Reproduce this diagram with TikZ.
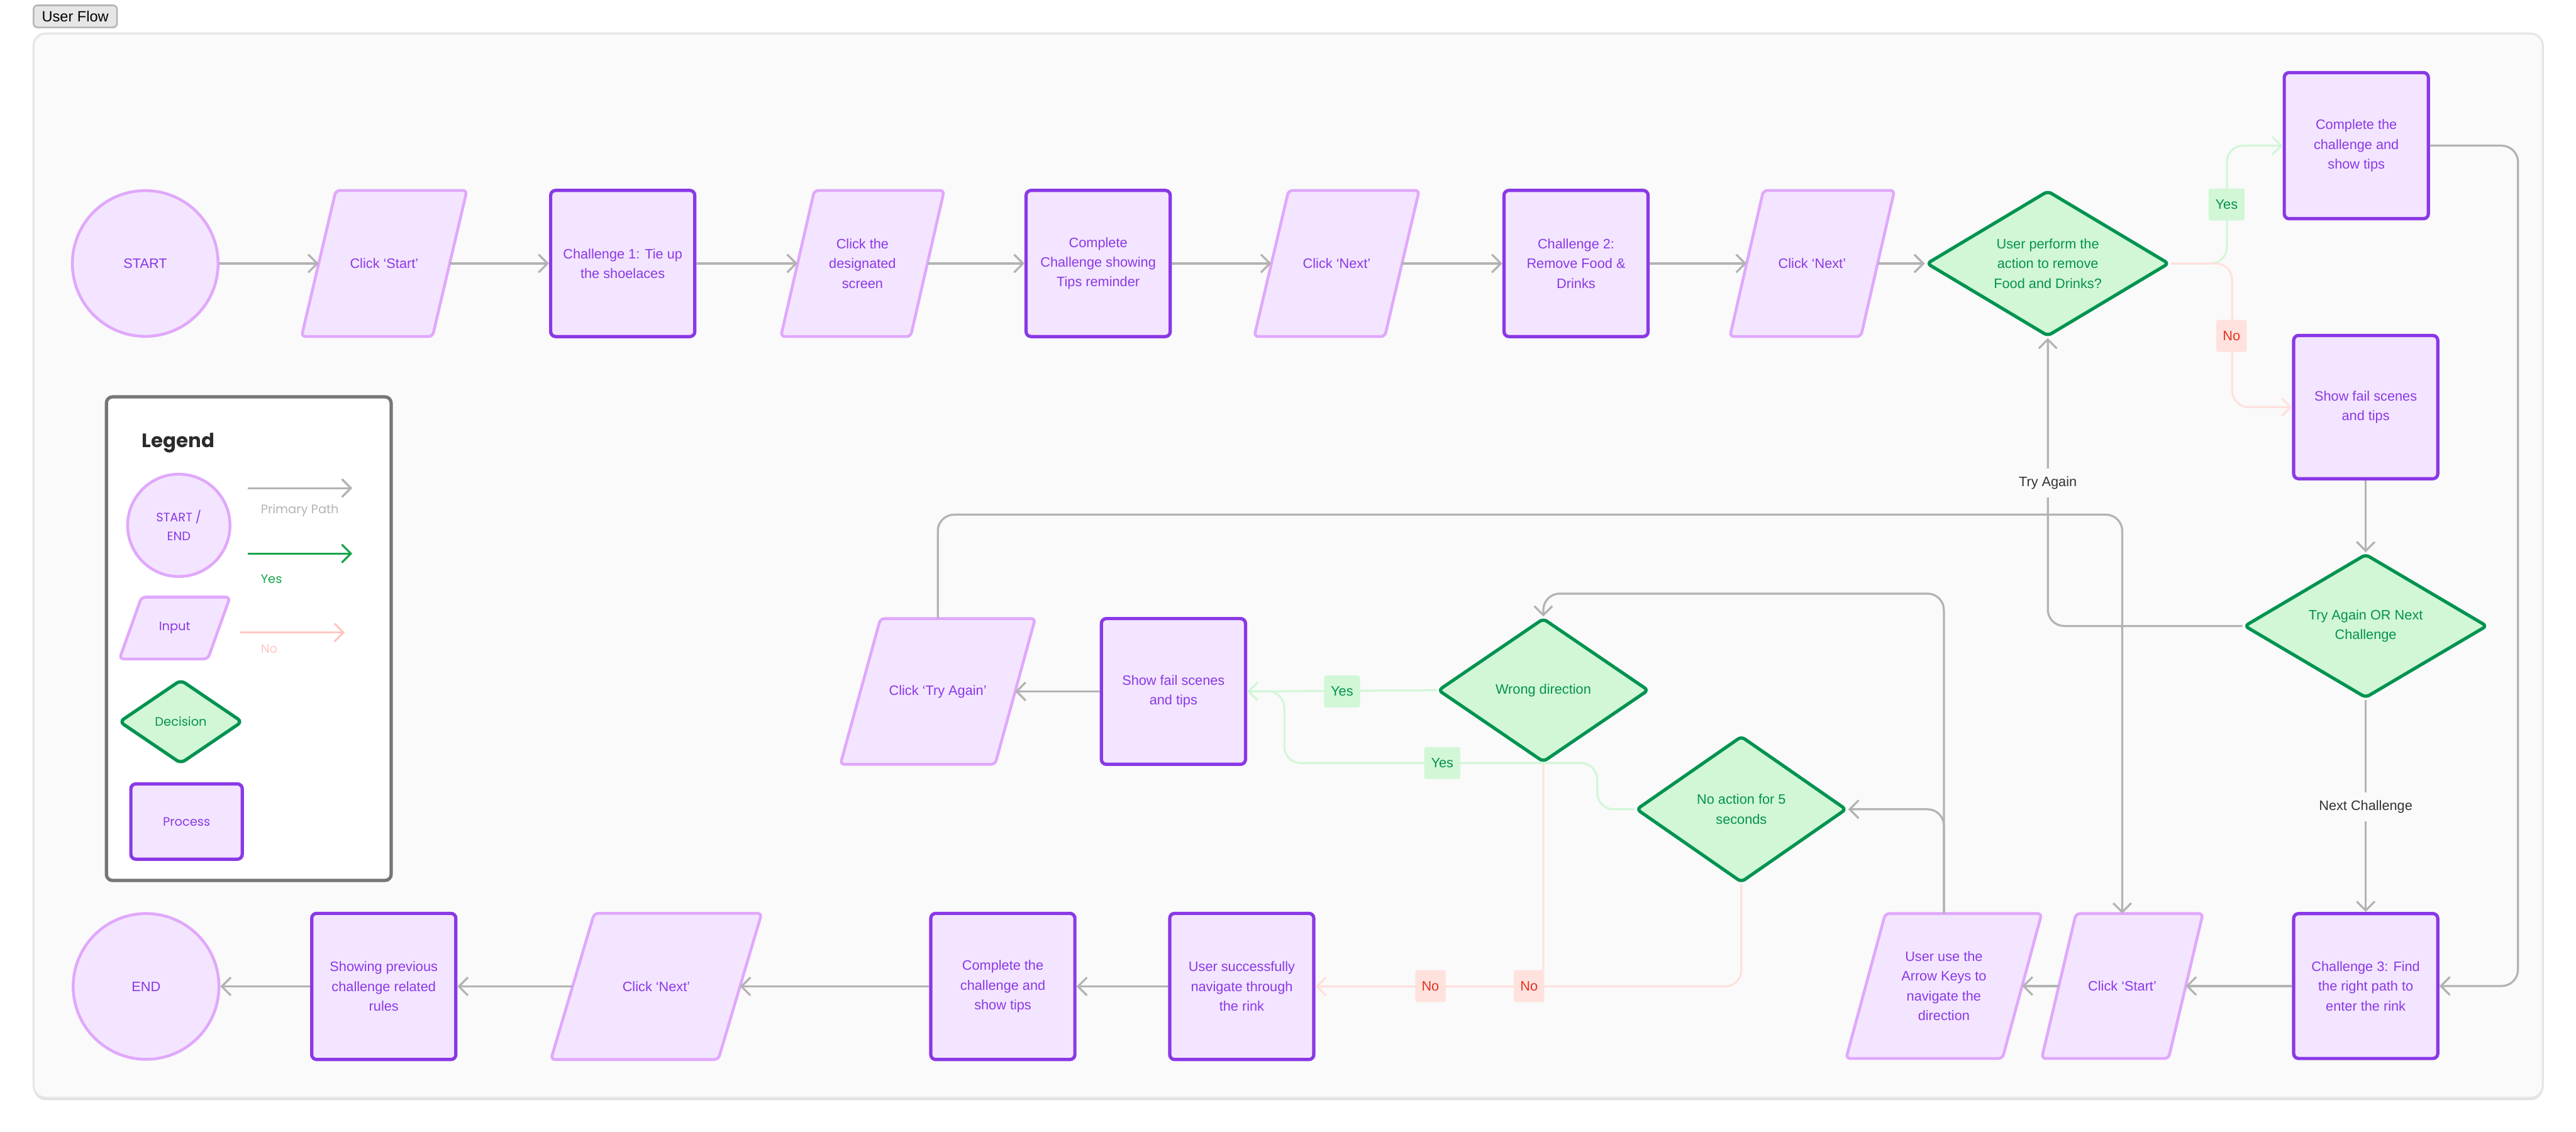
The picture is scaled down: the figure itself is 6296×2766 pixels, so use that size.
\documentclass[tikz,border=0pt]{standalone}
\usepackage{fontspec}
\setmainfont{Liberation Sans}
\newfontfamily\legendfont{Poppins}
\usetikzlibrary{shapes.geometric,arrows.meta,calc}
\pgfdeclarelayer{bg}
\pgfsetlayers{bg,main}
\definecolor{purp}{HTML}{8A38E6}
\definecolor{lpurp}{HTML}{E0A8FC}
\definecolor{pfill}{HTML}{F3E5FF}
\definecolor{ptext}{HTML}{8A38E6}
\definecolor{gfill}{HTML}{D1F7D7}
\definecolor{gdraw}{HTML}{009350}
\definecolor{gtext}{HTML}{04924B}
\definecolor{arrowgray}{HTML}{B3B3B3}
\definecolor{yesline}{HTML}{D3F6D9}
\definecolor{noline}{HTML}{FFE1DE}
\definecolor{nofill}{HTML}{FFE1DE}
\definecolor{notext}{HTML}{E3321E}
\definecolor{contfill}{HTML}{FAFAFA}
\definecolor{contdraw}{HTML}{E6E6E6}
\definecolor{shadowc}{HTML}{E0E0E0}
\definecolor{dtext}{HTML}{333333}
\definecolor{legdraw}{HTML}{767676}
\definecolor{legtitle}{HTML}{2B2B2B}
\definecolor{lgreen}{HTML}{16A34A}
\definecolor{lpink}{HTML}{FFC6C1}
\definecolor{tabfill}{HTML}{E6E6E6}
\definecolor{tabdraw}{HTML}{B5B5B5}
\tikzset{
 txt/.style={font=\fontsize{9.5pt}{13.7pt}\selectfont, align=center, inner sep=0pt},
 proc/.style={txt, rectangle, rounded corners=0.12cm, draw=purp, fill=pfill, line width=0.08cm, text=ptext, minimum width=3.52cm, minimum height=3.57cm},
 term/.style={txt, circle, draw=lpurp, fill=pfill, line width=0.07cm, text=ptext, minimum size=3.56cm},
 inp/.style={txt, rectangle, text=ptext, outer sep=0pt, minimum width=#1, minimum height=3.57cm},
 inp/.default=3.2cm,
 inpshape/.style={draw=lpurp, fill=pfill, line width=0.07cm, rounded corners=0.1cm, line join=round},
 dec/.style={txt, diamond, aspect=1.66, draw=gdraw, fill=gfill, line width=0.08cm, text=gtext, rounded corners=0.1cm, minimum width=5.93cm, minimum height=3.56cm},
 yesl/.style={txt, fill=gfill, text=gtext, rounded corners=0.05cm, minimum width=0.88cm, minimum height=0.78cm},
 nol/.style={txt, fill=nofill, text=notext, rounded corners=0.05cm, minimum width=0.74cm, minimum height=0.78cm},
 elbl/.style={txt, fill=contfill, text=dtext, inner xsep=0.08cm, inner ysep=0.2cm},
 barbtip/.style={-{Straight Barb[length=0.22cm,width=0.44cm]}},
 garrow/.style={draw=arrowgray, line width=0.05cm, barbtip, rounded corners=0.4cm},
 yarrow/.style={garrow, draw=yesline},
 narrow/.style={garrow, draw=noline},
 lgtxt/.style={font=\legendfont\fontsize{8.5pt}{13.4pt}\selectfont, align=center, inner sep=0pt},
}
\begin{document}
\begin{tikzpicture}[x=0.01cm,y=-0.01cm]
\useasboundingbox (0,0) rectangle (6296,2766);
\begin{pgfonlayer}{bg}
\fill[white] (0,0) rectangle (6296,2766);
\fill[shadowc, rounded corners=0.3cm] (82,88) rectangle (6215,2689);
\draw[draw=contdraw, fill=contfill, line width=0.05cm, rounded corners=0.3cm] (82,82) rectangle (6215,2683);
\draw[draw=legdraw, fill=white, line width=0.08cm, rounded corners=0.15cm] (260,970) rectangle (956,2152);
\end{pgfonlayer}

% tab
\node[txt, font=\fontsize{10.3pt}{12pt}\selectfont, draw=tabdraw, fill=tabfill, line width=0.04cm, rounded corners=0.1cm, minimum width=2.04cm, minimum height=0.54cm, text=black] (tab) at (184,40) {User Flow};

% top row
\node[term] (s) at (355,644) {START};
\node[inp=3.2cm] (i1) at (939,644) {Click ‘Start’};
\node[proc] (c1) at (1522,644) {Challenge 1: Tie up\\the shoelaces};
\node[inp=3.17cm] (i2) at (2108,644) {Click the\\designated\\screen};
\node[proc] (c2) at (2684,644) {Complete\\Challenge showing\\Tips reminder};
\node[inp=3.19cm] (i3) at (3267,644) {Click ‘Next’};
\node[proc] (c3) at (3852,644) {Challenge 2:\\Remove Food \&\\Drinks};
\node[inp=3.2cm] (i4) at (4429,644) {Click ‘Next’};
\node[dec] (d1) at (5005,644) {User perform the\\action to remove\\Food and Drinks?};
\node[proc] (ct) at (5759,356) {Complete the\\challenge and\\show tips};
\node[proc, minimum height=3.5cm] (fr) at (5782,995) {Show fail scenes\\and tips};
\node[dec, minimum width=5.94cm, minimum height=3.52cm] (d2) at (5782,1530) {Try Again OR Next\\Challenge};
\node[proc, minimum height=3.54cm] (ch3) at (5782,2410) {Challenge 3: Find\\the right path to\\enter the rink};
\node[inp=3.1cm, minimum height=3.54cm] (cs2) at (5187,2410) {Click ‘Start’};
\node[inp=3.82cm, minimum height=3.54cm] (ak) at (4751,2410) {User use the\\Arrow Keys to\\navigate the\\direction};
\node[dec, aspect=1.46, minimum width=5.14cm, minimum height=3.58cm] (na) at (4256,1978) {No action for 5\\seconds};
\node[dec, aspect=1.46, minimum width=5.15cm, minimum height=3.52cm] (wd) at (3772,1687) {Wrong direction};
\node[proc, minimum height=3.56cm] (fm) at (2868,1690) {Show fail scenes\\and tips};
\node[inp=3.78cm, minimum height=3.56cm] (cta) at (2292,1690) {Click ‘Try Again’};
\node[proc] (us) at (3035,2411) {User successfully\\navigate through\\the rink};
\node[proc] (cc) at (2451,2411) {Complete the\\challenge and\\show tips};
\node[inp=4.09cm] (cn) at (1604,2411) {Click ‘Next’};
\node[proc] (sp) at (938,2411) {Showing previous\\challenge related\\rules};
\node[term] (e) at (357,2411) {END};

% legend
\node[font=\legendfont\fontsize{13.5pt}{16pt}\selectfont\bfseries, text=legtitle, inner sep=0pt] (lgt) at (436,1082) {Legend};
\node[lgtxt, circle, draw=lpurp, fill=pfill, line width=0.07cm, text=ptext, minimum size=2.5cm] (ls) at (437,1284) {START /\\END};
\node[lgtxt, rectangle, text=ptext, outer sep=0pt, minimum width=2.16cm, minimum height=1.51cm] (li) at (427,1535) {Input};
\node[lgtxt, diamond, aspect=1.47, draw=gdraw, fill=gfill, line width=0.08cm, text=gtext, rounded corners=0.12cm, minimum width=3.02cm, minimum height=2.06cm] (ld) at (442,1764) {Decision};
\node[lgtxt, rectangle, draw=purp, fill=pfill, line width=0.08cm, rounded corners=0.12cm, text=ptext, minimum width=2.72cm, minimum height=1.84cm] (lp) at (456,2008) {Process};
\coordinate (la1) at (606,1193); \coordinate (la2) at (861,1193);
\coordinate (lb1) at (606,1353); \coordinate (lb2) at (861,1353);
\coordinate (lc1) at (587,1546); \coordinate (lc2) at (843,1546);
\draw[garrow] (la1) -- (la2);
\draw[garrow, draw=lgreen] (lb1) -- (lb2);
\draw[garrow, draw=lpink] (lc1) -- (lc2);
\node[lgtxt, anchor=west, text=arrowgray] (lt1) at (637,1247) {Primary Path};
\node[lgtxt, anchor=west, text=lgreen] (lt2) at (637,1416) {Yes};
\node[lgtxt, anchor=west, text=lpink] (lt3) at (637,1586) {No};

% parallelogram outlines
\begin{pgfonlayer}{bg}
\foreach \n/\s in {i1/42,i2/41,i3/42,i4/41,cs2/42,ak/48,cta/49,cn/53,li/27}{
  \draw[inpshape] ([xshift=\s*0.01cm]\n.north west) -- ([xshift=\s*0.01cm]\n.north east) -- ([xshift=-\s*0.01cm]\n.south east) -- ([xshift=-\s*0.01cm]\n.south west) -- cycle;
}
\end{pgfonlayer}

% connectors: top row
\draw[garrow] (s.east) -- (i1.west);
\draw[garrow] (i1.east) -- (c1.west);
\draw[garrow] (c1.east) -- (i2.west);
\draw[garrow] (i2.east) -- (c2.west);
\draw[garrow] (c2.east) -- (i3.west);
\draw[garrow] (i3.east) -- (c3.west);
\draw[garrow] (c3.east) -- (i4.west);
\draw[garrow] (i4.east) -- (d1.west);
\draw[yarrow] (d1.east) -- ++(137,0) |- (ct.west);
\draw[narrow] (d1.east) -- ++(150,0) |- (fr.west);
\draw[garrow] (ct.east) -- ++(215,0) |- (ch3.east);
\draw[garrow] (fr.south) -- (d2.north);
\draw[garrow] (d2.west) -| (d1.south);
\draw[garrow] (d2.south) -- (ch3.north);
\draw[garrow] (ch3.west) -- (cs2.east);
\draw[garrow] (cs2.west) -- (ak.east);
\draw[garrow] (ak.north) -- ++(0,-782) -| (wd.north);
\draw[garrow] (ak.north) |- (na.east);
\draw[yarrow] (wd.west) -- (fm.east);
\draw[yarrow] (na.west) -- ++(-91,0) |- (3139,1865) |- (fm.east);
\draw[narrow] (wd.south) |- (us.east);
\draw[narrow] (na.south) |- (us.east);
\draw[garrow] (fm.west) -- (cta.east);
\draw[garrow] (cta.north) -- ++(0,-254) -| (cs2.north);
\draw[garrow] (us.west) -- (cc.east);
\draw[garrow] (cc.west) -- (cn.east);
\draw[garrow] (cn.west) -- (sp.east);
\draw[garrow] (sp.west) -- (e.east);

% labels
\node[yesl] (ly1) at (5442,500) {Yes};
\node[nol] (ln1) at (5454,821) {No};
\node[yesl] (ly2) at (3280,1690) {Yes};
\node[yesl] (ly3) at (3525,1865) {Yes};
\node[nol] (ln2) at (3737,2410) {No};
\node[nol] (ln3) at (3496,2410) {No};
\node[elbl] (lta) at (5005,1180) {Try Again};
\node[elbl] (lnc) at (5782,1972) {Next Challenge};
\end{tikzpicture}
\end{document}
